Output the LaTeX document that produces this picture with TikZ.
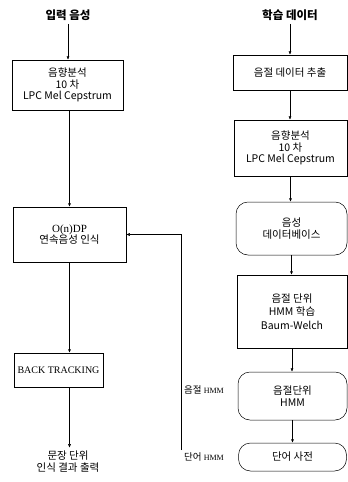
\documentclass[tikz,border=0pt]{standalone}
\usepackage{fontspec}
\setmainfont{Liberation Serif}
\newfontfamily\kr{Noto Sans CJK KR}
\usetikzlibrary{arrows.meta}

\begin{document}
\begin{tikzpicture}[x=1pt,y=-1pt,
    procbox/.style={draw,line width=0.5pt,inner sep=0pt,align=center,
                    font=\kr\fontsize{10.5}{11.5}\selectfont},
    storebox/.style={procbox,rounded corners=12pt},
    flow/.style={line width=0.5pt,-{Latex[length=3.5pt,width=3pt]}},
    ttl/.style={font=\kr\bfseries\fontsize{11.5}{13}\selectfont,align=center},
    hmmlabel/.style={anchor=west,inner sep=1pt,font=\kr\fontsize{9.5}{11}\selectfont}]
  \useasboundingbox (0,0) rectangle (348,482);
  % left column
  \node[ttl] (intitle) at (68,15) {입력 음성};
  \node[procbox,minimum width=111pt,minimum height=50pt] (anal1) at (67.5,85)
    {음향분석\\10 차\\{\fontsize{10.5}{11.5}\selectfont LPC Mel Cepstrum}};
  \node[procbox,minimum width=113pt,minimum height=55pt] (odp) at (69.5,234.5)
    {{\rmfamily\fontsize{11}{12}\selectfont O(n)DP}\\연속음성 인식};
  \node[procbox,minimum width=89pt,minimum height=34pt,
        font=\rmfamily\fontsize{10}{12}\selectfont] (backtr) at (58.5,370) {BACK TRACKING};
  \node[ttl,font=\kr\fontsize{10.5}{12}\selectfont] (result) at (68,462) {문장 단위\\인식 결과 출력};
  % right column
  \node[ttl] (trtitle) at (290,15) {학습 데이터};
  \node[procbox,minimum width=114pt,minimum height=35pt] (extract) at (290,72.5) {음절 데이터 추출};
  \node[procbox,minimum width=113pt,minimum height=56pt] (anal2) at (290.5,148)
    {음향분석\\10 차\\{\fontsize{10.5}{11.5}\selectfont LPC Mel Cepstrum}};
  \node[storebox,minimum width=111pt,minimum height=53pt] (db) at (291.5,228.5)
    {음성\\[1pt]데이터베이스};
  \node[procbox,minimum width=110pt,minimum height=73pt] (train) at (292,311.5)
    {음절 단위\\[2pt]HMM 학습\\[2pt]Baum-Welch};
  \node[storebox,minimum width=109pt,minimum height=48pt] (syhmm) at (292.5,396)
    {음절단위\\[1pt]HMM};
  \node[storebox,minimum width=108pt,minimum height=28pt] (dict) at (292.5,457) {단어 사전};
  % model labels
  \node[hmmlabel] (sylab) at (183,390) {음절 {\rmfamily\fontsize{8}{10}\selectfont HMM}};
  \node[hmmlabel] (wordlab) at (183,457) {단어 {\rmfamily\fontsize{8}{10}\selectfont HMM}};
  \coordinate (hmmbot) at (181,450);

  \draw[flow] (intitle.south) -- (intitle.south |- anal1.north);
  \draw[flow] (anal1.south -| odp.north) -- (odp.north);
  \draw[flow] (odp.south) -- (odp.south |- backtr.north);
  \draw[flow] (odp.south |- backtr.south) -- (odp.south |- result.north);
  \draw[flow] (trtitle.south) -- (trtitle.south |- extract.north);
  \draw[flow] (extract.south) -- (extract.south |- anal2.north);
  \draw[flow] (anal2.south) -- (anal2.south |- db.north);
  \draw[flow] (db.south) -- (db.south |- train.north);
  \draw[flow] (train.south) -- (train.south |- syhmm.north);
  \draw[flow] (syhmm.south) -- (syhmm.south |- dict.north);
  \draw[flow] (hmmbot) |- (odp.east);
\end{tikzpicture}
\end{document}
